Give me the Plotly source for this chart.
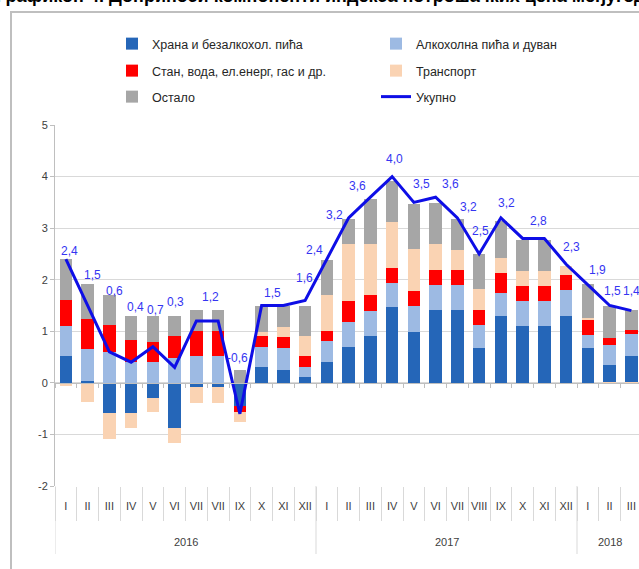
import plotly.graph_objects as go

# ---- data ----
month_labels = ["I", "II", "III", "IV", "V", "VI", "VII", "VII", "IX", "X", "XI", "XII",
                "I", "II", "III", "IV", "V", "VI", "VII", "VIII", "IX", "X", "XI", "XII",
                "I", "II", "III"]
years = ["2016"] * 12 + ["2017"] * 12 + ["2018"] * 3

food = [0.53, 0.03, -0.58, -0.58, -0.29, -0.87, -0.08, -0.08, -0.45, 0.31, 0.25, 0.12,
        0.41, 0.69, 0.90, 1.47, 0.98, 1.41, 1.41, 0.68, 1.29, 1.11, 1.11, 1.30,
        0.68, 0.35, 0.53]
alcohol = [0.58, 0.62, 0.59, 0.41, 0.40, 0.48, 0.52, 0.52, 0.00, 0.38, 0.43, 0.19,
           0.40, 0.49, 0.49, 0.46, 0.51, 0.49, 0.49, 0.45, 0.45, 0.47, 0.47, 0.50,
           0.24, 0.39, 0.41]
housing = [0.49, 0.59, 0.53, 0.42, 0.40, 0.42, 0.48, 0.48, -0.12, 0.22, 0.21, 0.22,
           0.20, 0.40, 0.31, 0.30, 0.30, 0.29, 0.29, 0.29, 0.39, 0.30, 0.30, 0.30,
           0.31, 0.13, 0.09]
transport = [-0.06, -0.37, -0.50, -0.30, -0.28, -0.30, -0.32, -0.32, -0.19, 0.08, 0.19, 0.37,
             0.70, 1.11, 0.99, 0.89, 0.80, 0.50, 0.38, 0.40, 0.30, 0.29, 0.29, 0.16,
             0.03, -0.03, -0.03]
other = [0.80, 0.68, 0.59, 0.47, 0.49, 0.40, 0.42, 0.42, 0.25, 0.50, 0.42, 0.60,
         0.68, 0.48, 0.87, 0.79, 0.87, 0.80, 0.60, 0.68, 0.70, 0.60, 0.60, 0.00,
         0.65, 0.63, 0.39]
total = [2.4, 1.5, 0.6, 0.4, 0.7, 0.3, 1.2, 1.2, -0.6, 1.5, 1.5, 1.6,
         2.4, 3.2, 3.6, 4.0, 3.5, 3.6, 3.2, 2.5, 3.2, 2.8, 2.8, 2.3,
         1.9, 1.5, 1.4]

series_names = ["Храна и безалкохол. пића", "Алкохолна пића и дуван",
                "Стан, вода, ел.енерг, гас и др.", "Транспорт", "Остало"]
total_name = "Укупно"

y_tickvals = [-2, -1, 0, 1, 2, 3, 4, 5]
y_ticktext = ["-2", "-1", "0", "1", "2", "3", "4", "5"]

title_text = "Графикон 4. Доприноси компоненти индекса потрошачких цена међугодишњој инфлацији (у п.п.)"

# ---- style ----
colors = ["#2566B8", "#9DBAE3", "#FF0000", "#FAD3B3", "#A6A6A6"]
line_color = "#0E0EE6"
label_color = "#3535F2"
grid_color = "#D9D9D9"
axis_color = "#BFBFBF"
font_main = "Liberation Sans Narrow, Arial Narrow, Liberation Sans, sans-serif"

# label offsets (px) for each value label (after merging equal neighbours)
label_offsets = [(4, -8), (5, -31), (5, -61), (4, -55), (3, -37), (1, -65), (3, -24),
                 (-2, -56), (0, -13), (-1, -22), (-12, -9), (-14, -3), (-13, -11),
                 (2, -18), (8, -18), (15, -13), (11, -11), (1, -23), (6, -15), (5, -17),
                 (5, -17), (10, -15), (3, -15), (0, -20)]

W, H = 639, 569
ML, MR, MT, MB = 55, 0, 125, 83
plot_w = W - ML - MR
plot_h = H - MT - MB
n = len(total)
x_idx = list(range(n))
slot = 21.75
x_range = [-0.5, -0.5 + plot_w / slot]


def px_to_paper_y(py):
    return (H - MB - py) / plot_h


def px_to_paper_x(px):
    return (px - ML) / plot_w


fig = go.Figure()
legends = ["legend", "legend", "legend2", "legend2", "legend3"]
leg_widths = [219, 150, 219, 150, 219]
for vals, name, col, lg, lw in zip([food, alcohol, housing, transport, other], series_names,
                                   colors, legends, leg_widths):
    fig.add_trace(go.Bar(x=x_idx, y=vals, name=name, marker=dict(color=col, line=dict(width=0)),
                         width=0.58, legend=lg, legendwidth=lw))

fig.add_trace(go.Scatter(x=x_idx, y=total, name=total_name, mode="lines", xaxis="x3",
                         line=dict(color=line_color, width=3), legend="legend3", legendwidth=150))

# value labels (equal consecutive values labelled once, centred)
groups = []
i = 0
while i < n:
    j = i
    while j + 1 < n and total[j + 1] == total[i]:
        j += 1
    groups.append(((i + j) / 2, total[i]))
    i = j + 1

annotations = []
for (gx, gv), (dx, dy) in zip(groups, label_offsets):
    annotations.append(dict(x=gx, y=gv, xref="x", yref="y", text=f"{gv:.1f}".replace(".", ","),
                            showarrow=False, xshift=dx, yshift=-dy,
                            font=dict(family=font_main, size=12, color=label_color)))

# year labels and dividers
year_names = []
for yv in years:
    if yv not in year_names:
        year_names.append(yv)
shapes = []
for yv in year_names:
    idxs = [k for k, v in enumerate(years) if v == yv]
    annotations.append(dict(x=sum(idxs) / len(idxs), y=px_to_paper_y(542), xref="x", yref="paper",
                            text=yv, showarrow=False, yanchor="middle",
                            font=dict(family=font_main, size=11, color="#404040")))
    shapes.append(dict(type="line", xref="x", yref="paper", x0=idxs[0] - 0.5, x1=idxs[0] - 0.5,
                       y0=0, y1=px_to_paper_y(554), line=dict(color=grid_color, width=1)))

# outer frame
shapes.append(dict(type="rect", xref="paper", yref="paper", x0=px_to_paper_x(11), x1=1.2,
                   y0=px_to_paper_y(620), y1=px_to_paper_y(12), line=dict(color=axis_color, width=2),
                   fillcolor="rgba(0,0,0,0)", layer="below"))

# cut-off title at the very top
annotations.append(dict(x=px_to_paper_x(-6), y=px_to_paper_y(-4), xref="paper", yref="paper",
                        xanchor="left", yanchor="middle", text=f"<b>{title_text}</b>", showarrow=False,
                        font=dict(family="Liberation Sans, sans-serif", size=18, color="#000000")))

boundaries = [k - 0.5 for k in range(n + 1)]
leg_font = dict(family=font_main, size=12.5, color="#262626")
leg_common = dict(orientation="h", xanchor="left", yanchor="middle",
                  traceorder="normal", font=leg_font,
                  bgcolor="rgba(0,0,0,0)", x=px_to_paper_x(112))

fig.update_layout(
    width=W, height=H,
    margin=dict(l=ML, r=MR, t=MT, b=MB, pad=0, autoexpand=False),
    paper_bgcolor="white", plot_bgcolor="white",
    barmode="relative", bargap=0,
    font=dict(family=font_main, size=11, color="#404040"),
    showlegend=True,
    legend=dict(leg_common, y=px_to_paper_y(44)),
    legend2=dict(leg_common, y=px_to_paper_y(71)),
    legend3=dict(leg_common, y=px_to_paper_y(97)),
    xaxis=dict(range=x_range, tickmode="array", tickvals=x_idx, ticktext=month_labels,
               ticks="", ticklabelstandoff=12,
               tickfont=dict(family=font_main, size=11, color="#404040"),
               minor=dict(tickmode="array", tickvals=boundaries, ticks="outside", ticklen=34,
                          tickcolor=grid_color, tickwidth=1, showgrid=False),
               showgrid=False, zeroline=False, showline=False),
    xaxis3=dict(overlaying="x", matches="x", range=x_range, tickmode="array", tickvals=boundaries,
                showticklabels=False, ticks="outside", ticklen=4, tickcolor=axis_color,
                anchor="free", position=2 / 7, showline=True, linecolor=axis_color, linewidth=1,
                showgrid=False, zeroline=False),
    yaxis=dict(range=[-2, 5], tickmode="array", tickvals=y_tickvals, ticktext=y_ticktext,
               showgrid=True, gridcolor=grid_color, gridwidth=1, zeroline=False,
               showline=True, linecolor=axis_color, linewidth=1, ticks="outside", ticklen=4,
               tickcolor=axis_color, tickfont=dict(family=font_main, size=11, color="#404040")),
    annotations=annotations,
    shapes=shapes,
)

fig.write_html("out.html", config={"displayModeBar": False},
               post_script="document.body.style.margin='0';document.body.style.overflow='hidden';")
